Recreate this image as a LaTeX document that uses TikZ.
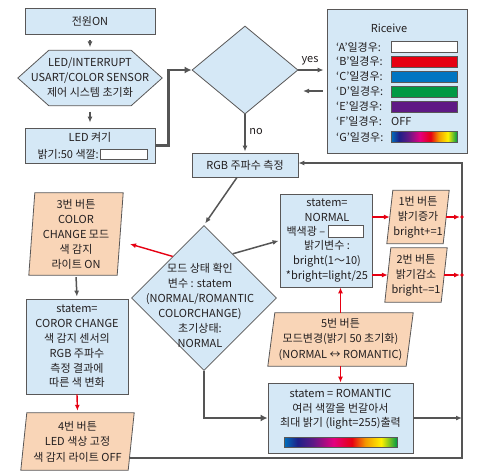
\documentclass[tikz,border=0pt]{standalone}
\usepackage{fontspec}
\setmainfont{Noto Sans CJK KR}
\usetikzlibrary{shapes.geometric,arrows.meta,backgrounds,calc}
\definecolor{lblue}{HTML}{D5E8F6}
\definecolor{peach}{HTML}{F9D5B7}
\definecolor{bdr}{HTML}{595757}
\definecolor{cline}{HTML}{555555}
\definecolor{myred}{HTML}{E60012}
\definecolor{txtc}{HTML}{231F20}
\definecolor{rbA}{HTML}{0071BC}
\definecolor{rbB}{HTML}{1D2088}
\definecolor{rbC}{HTML}{601986}
\definecolor{rbD}{HTML}{E4007F}
\definecolor{rbE}{HTML}{E60012}
\definecolor{rbF}{HTML}{F39800}
\definecolor{rbG}{HTML}{FFF100}
\definecolor{rbH}{HTML}{009944}
\definecolor{cB}{HTML}{E60012}
\definecolor{cC}{HTML}{0075C2}
\definecolor{cD}{HTML}{009944}
\definecolor{cE}{HTML}{5F1985}
\pgfdeclarehorizontalshading{rainbow}{100bp}{color(0bp)=(rbA); color(25bp)=(rbA); color(31bp)=(rbB); color(38bp)=(rbC); color(47bp)=(rbD); color(55bp)=(rbE); color(61bp)=(rbF); color(68bp)=(rbG); color(75bp)=(rbH); color(100bp)=(rbH)}
\tikzset{
  txt/.style={font=\fontsize{11}{15}\selectfont, text=txtc, align=center, inner sep=0pt},
  bbox/.style={draw=bdr, fill=lblue, line width=0.8pt, inner sep=0pt},
  pfill/.style={draw=bdr, fill=peach, line width=0.8pt},
  hexfill/.style={draw=bdr, fill=lblue, line width=0.8pt},
  garrow/.style={draw=cline, line width=1.5pt, -{Latex[length=6pt,width=5pt]}},
  gthick/.style={draw=cline, line width=2.6pt},
  rarrow/.style={draw=myred, line width=1.4pt, -{Latex[length=6pt,width=5pt]}},
  swatch/.style={draw=bdr, line width=0.6pt, minimum width=66, minimum height=11, inner sep=0pt},
}
\newcommand{\paraback}[2]{\begin{scope}[on background layer]\draw[pfill] ([xshift=#2]#1.north west) -- (#1.north east) -- ([xshift=-#2]#1.south east) -- (#1.south west) -- cycle;\end{scope}}
\begin{document}
\begin{tikzpicture}[x=1pt,y=-1pt]
\useasboundingbox (0,0) rectangle (477,475);

% left column
\node[bbox, txt, minimum width=130, minimum height=26] (pwr) at (90,21) {전원ON};
\node[txt, minimum width=144, minimum height=55] (init) at (90,78) {LED/INTERRUPT\\USART/COLOR SENSOR\\제어 시스템 초기화};
\begin{scope}[on background layer]
\draw[hexfill] (init.west) -- ([xshift=31]init.north west) -- ([xshift=-31]init.north east) -- (init.east) -- ([xshift=-31]init.south east) -- ([xshift=31]init.south west) -- cycle;
\end{scope}
\node[bbox, minimum width=130, minimum height=35] (ledon) at (90,145.5) {};
\node[txt] (ledt1) at (90,137.5) {LED 켜기};
\node[txt, anchor=east] (ledt2) at (99,154.5) {밝기:50 색깔:};
\node[swatch, fill=white, minimum width=47, minimum height=10] (ledsw) at (123.5,154.5) {};

% decision
\node[diamond, bbox, minimum width=106, minimum height=88] (dec) at (245,70) {};
\node[txt] (yes) at (310,61) {yes};
\node[txt] (no) at (256,132) {no};

% riceive
\node[bbox, minimum width=140, minimum height=144] (ric) at (397,81) {};
\node[txt] (rtitle) at (389,28) {Riceive};
\node[txt, anchor=west] (ra) at (336,47) {‘A’일경우:};
\node[txt, anchor=west] (rb) at (336,61.5) {‘B’일경우:};
\node[txt, anchor=west] (rc) at (336,76.5) {‘C’일경우:};
\node[txt, anchor=west] (rd) at (336,91.5) {‘D’일경우:};
\node[txt, anchor=west] (re) at (336,106.5) {‘E’일경우:};
\node[txt, anchor=west] (rf) at (336,121.5) {‘F’일경우:};
\node[txt, anchor=west] (rg) at (336,137) {‘G’일경우:};
\node[swatch, fill=white] (sa) at (424,47) {};
\node[swatch, fill=cB] (sb) at (424,61.5) {};
\node[swatch, fill=cC] (sc) at (424,76.5) {};
\node[swatch, fill=cD] (sd) at (424,91.5) {};
\node[swatch, fill=cE] (se) at (424,106.5) {};
\node[txt, anchor=west] (sf) at (391,121.5) {OFF};
\node[swatch, shading=rainbow] (sg) at (424,137) {};

% rgb
\node[bbox, txt, minimum width=106, minimum height=24] (rgb) at (245,165) {RGB 주파수 측정};

% mode diamond
\node[diamond, bbox, minimum width=145, minimum height=145] (mode) at (204,298) {};
\node[txt] (modet) at (200,305.5) {모드 상태 확인\\변수 : statem\\(NORMAL/ROMANTIC\\COLORCHANGE)\\초기상태:\\NORMAL};

% button 3
\node[txt, minimum width=94, minimum height=82] (b3) at (76,234) {3번 버튼\\COLOR\\CHANGE 모드\\색 감지\\라이트 ON};
\paraback{b3}{6}
\coordinate (b3tip) at (130,244);

% color change box
\node[bbox, txt, font=\fontsize{11}{14.8}\selectfont, minimum width=102, minimum height=95] (cc) at (77,346.5) {statem=\\COROR CHANGE\\색 감지 센서의\\RGB 주파수\\측정 결과에\\따른 색 변화};

% button 4
\node[txt, font=\fontsize{11}{15.5}\selectfont, minimum width=113, minimum height=57] (b4) at (77.5,441.5) {4번 버튼\\LED 색상 고정\\색 감지 라이트 OFF};
\paraback{b4}{6}

% normal box
\node[bbox, minimum width=92, minimum height=93] (normal) at (326,240.5) {};
\node[txt] (nt1) at (327,210.5) {statem=\\NORMAL};
\node[txt, anchor=east] (nt2) at (325.5,231) {백색광 –};
\node[swatch, fill=white, minimum width=35, minimum height=12] (nsw) at (345.5,231) {};
\node[txt] (nt3) at (327,261.5) {밝기변수 :\\bright(1～10)\\*bright=light/25};

% buttons 1,2
\node[txt, minimum width=62, minimum height=53] (b1) at (418,217) {1번 버튼\\밝기증가\\bright+=1};
\paraback{b1}{6}
\node[txt, minimum width=62, minimum height=54] (b2) at (416,275) {2번 버튼\\밝기감소\\bright–=1};
\paraback{b2}{6}

% button 5
\node[txt, font=\fontsize{11}{15.5}\selectfont, minimum width=145, minimum height=53] (b5) at (340.5,339.5) {5번 버튼\\모드변경(밝기 50 초기화)\\(NORMAL ↔ ROMANTIC)};
\paraback{b5}{7}

% romantic box
\node[bbox, minimum width=145, minimum height=70] (rom) at (340.5,418) {};
\node[txt, font=\fontsize{11}{14.5}\selectfont] (romt) at (340.5,409.5) {statem = ROMANTIC\\여러 색깔을 번갈아서\\최대 밝기 (light=255)출력};
\node[draw=bdr, line width=0.6pt, shading=rainbow, minimum width=113, minimum height=10, inner sep=0pt] (rombar) at (340.5,442) {};

% coordinates for the right loop
\coordinate (rtop) at (462,163);
\coordinate (b4out) at (129,458);

% connectors
\draw[garrow, shorten <=6pt, shorten >=3pt] (pwr.south) -- (init.north);
\draw[garrow, shorten <=6pt, shorten >=5pt] (init.south) -- (ledon.north);
\draw[gthick, -{Latex[length=7pt,width=7pt]}] (ledon.east) -- ++(13,0) |- (dec.west);
\draw[garrow, shorten >=3pt] (dec.east) -- (dec.east -| ric.west);
\coordinate (retend) at (303,91);
\draw[garrow] ([xshift=-4pt,yshift=-10pt]ric.west) -- (retend);
\draw[garrow, shorten >=1pt] (dec.south) -- (rgb.north);
\draw[garrow, shorten >=2pt] ([xshift=-8pt]rgb.south) -- (mode.north);
\draw[garrow, shorten >=1pt] (mode.57) -- (normal.west);
\draw[rarrow] (mode.127) -- (b3tip);
\draw[garrow, shorten <=2pt, shorten >=2pt] (b3.south) -- (cc.north);
\draw[rarrow, shorten >=2pt] (cc.south) -- (b4.north);
\draw[gthick] (b4out) -| ([yshift=1.3pt]rtop);
\draw[garrow] (rtop) -- (rtop -| rgb.east);
\draw[gthick, -{Latex[length=7pt,width=7pt]}] (mode.south) |- (rom.west);
\draw[garrow] (rom.east) -- (rom.east -| rtop);
\draw[rarrow] (normal.east |- b1.west) -- ([xshift=3pt]b1.west);
\draw[rarrow] (normal.east |- b2.west) -- ([xshift=3pt]b2.west);
\draw[rarrow] ([xshift=-3pt]b1.east) -- ([xshift=-2pt]b1.east -| rtop);
\fill[myred] (b1.east -| rtop) circle (1.8pt);
\draw[rarrow] ([xshift=-3pt]b2.east) -- ([xshift=-2pt]b2.east -| rtop);
\fill[myred] (b2.east -| rtop) circle (1.8pt);
\draw[rarrow] (b5.north) -- (b5.north |- normal.south);
\draw[rarrow] (b5.south) -- (b5.south |- rom.north);
\end{tikzpicture}
\end{document}
